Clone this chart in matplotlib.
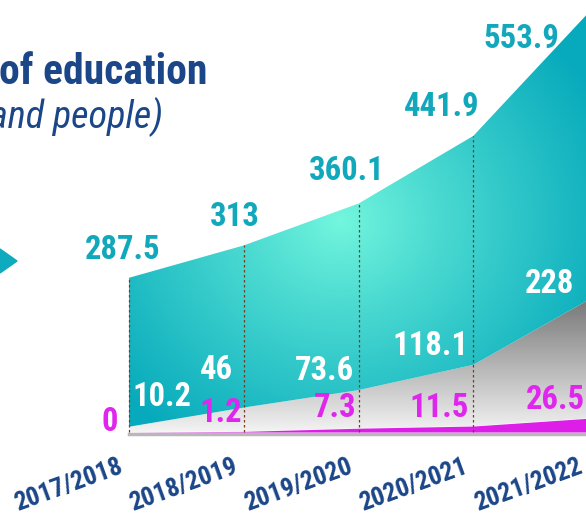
import numpy as np
import matplotlib.pyplot as plt
from matplotlib import font_manager
from matplotlib.colors import to_rgb
from matplotlib.patches import Polygon

# data (stacked areas)
years = ["2017/2018", "2018/2019", "2019/2020", "2020/2021", "2021/2022"]
magenta_vals = [0, 1.2, 7.3, 11.5, 26.5]
gray_vals = [10.2, 46, 73.6, 118.1, 228]
teal_vals = [287.5, 313, 360.1, 441.9, 553.9]

# pick a condensed face if there is one
names = {f.name for f in font_manager.fontManager.ttflist}
font = "Roboto"
for cand in ["Roboto Condensed", "Liberation Sans Narrow"]:
    if cand in names:
        font = cand
        break
plt.rcParams['font.family'] = [font, 'DejaVu Sans']

W, H = 586, 516
fig = plt.figure(figsize=(W / 100, H / 100), dpi=100)
ax = fig.add_axes([0, 0, 1, 1])
ax.axis('off')

# axis limits so that category 0 sits at px 129, step 114.75 px, baseline at px 432
step = 114.75
yscale = 0.518
xlo, xhi = -129 / step, (W - 129) / step
ylo, yhi = -(H - 432) / yscale, 432 / yscale
ax.set_xlim(xlo, xhi)
ax.set_ylim(ylo, yhi)


def px(x, y):
    # pixel -> data, for placing the text
    return xlo + x / step, yhi - y / yscale


xs = np.arange(len(years))
s1 = np.array(magenta_vals)
s2 = s1 + np.array(gray_vals)
s3 = s2 + np.array(teal_vals)

# gradient images in pixel space
gx, gy = np.meshgrid(np.arange(W), np.arange(H))

c_mid = np.array(to_rgb('#74f7de'))
c_out = np.array(to_rgb('#07aabc'))
r = np.sqrt(((gx - 340) / 1.0) ** 2 + ((gy - 220) / 0.9) ** 2)
t = np.clip(r / 290, 0, 1)[..., None] ** 0.9
teal_img = c_mid * (1 - t) + c_out * t

c_dark = np.array(to_rgb('#747474'))
c_light = np.array(to_rgb('#f4f4f4'))
t2 = np.clip((gy - 295) / (432 - 295), 0, 1)[..., None]
gray_img = c_dark * (1 - t2) + c_light * t2


def area(bottom, top, img):
    verts = list(zip(xs, top)) + list(zip(xs[::-1], bottom[::-1]))
    poly = Polygon(verts, closed=True, fill=False, lw=0)
    ax.add_patch(poly)
    im = ax.imshow(img, extent=(xlo, xhi, ylo, yhi), origin='upper',
                   aspect='auto', zorder=1)
    im.set_clip_path(poly)


# base shadow
ax.plot([0, 4.2], [-3, -3], color='#b8b8b8', lw=2.5, zorder=0.5)

area(s1, s2, gray_img)
area(s2, s3, teal_img)
ax.fill_between(xs, 0, s1, color='#dc1ee8', lw=0, zorder=2)

ax.vlines(xs[:4], 0, s3[:4], colors='#7a3c1c', linestyles=(0, (2, 2)),
          lw=0.9, zorder=3)

# labels
teal_c = '#12a8bc'
mag_c = '#df26ee'
blue_c = '#1b4688'
teal_pos = [(123, 250), (235, 217), (347, 171), (442, 107), (521, 39)]
white_pos = [(162, 397), (216, 370), (325, 371), (430, 346), (550, 284)]
mag_pos = [(110, 422), (221, 413), (335, 408), (439, 408), (555, 400)]

fs = 23.5
for v, p in zip(teal_vals, teal_pos):
    ax.text(*px(*p), f"{v:g}", color=teal_c, fontsize=fs, fontweight='bold',
            ha='center', va='center', zorder=5)
for v, p in zip(gray_vals, white_pos):
    ax.text(*px(*p), f"{v:g}", color='white', fontsize=fs, fontweight='bold',
            ha='center', va='center', zorder=5)
for v, p in zip(magenta_vals, mag_pos):
    ax.text(*px(*p), f"{v:g}", color=mag_c, fontsize=fs, fontweight='bold',
            ha='center', va='center', zorder=5)

# category labels
for i, lab in enumerate(years):
    ax.text(*px(129 + i * step - 11, 455), lab, color=blue_c, fontsize=18.5,
            fontweight='bold', ha='right', va='top', rotation=20,
            rotation_mode='anchor', zorder=5)

# title pieces
fig.text(207 / W, 1 - 84 / H, "of education", color=blue_c, fontsize=30,
         fontweight='bold', ha='right', va='baseline')
fig.text(163 / W, 1 - 128 / H, "and people)", color=blue_c, fontsize=27.5,
         fontstyle='italic', ha='right', va='baseline')

# arrow marker on the left
tri = Polygon([(0, 1 - 249 / H), (17 / W, 1 - 261 / H), (0, 1 - 273 / H)],
              closed=True, color='#0eaabd', transform=fig.transFigure)
fig.patches.append(tri)

fig.savefig('out.png', dpi=100)
